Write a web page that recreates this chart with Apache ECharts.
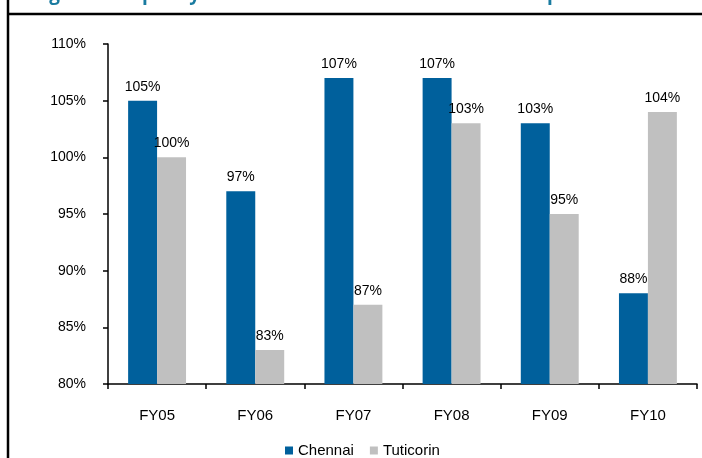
<!DOCTYPE html>
<html>
<head>
<meta charset="utf-8">
<script src="https://cdn.jsdelivr.net/npm/echarts@6/dist/echarts.min.js"></script>
<style>
  html, body { margin: 0; padding: 0; background: #fff; }
  #chart { width: 702px; height: 458px; }
</style>
</head>
<body>
<div id="chart"></div>
<script>
// Port capacity utilisation by fiscal year
const categories = ['FY05', 'FY06', 'FY07', 'FY08', 'FY09', 'FY10'];
const chennai = [105, 97, 107, 107, 103, 88];
const tuticorin = [100, 83, 87, 103, 95, 104];
const yTicks = { min: 80, max: 110, interval: 5 };

const FONT = '"Liberation Sans", Arial, sans-serif';

const chart = echarts.init(document.getElementById('chart'));

const labelStyle = {
  show: true,
  position: 'top',
  distance: 7,
  color: '#000',
  fontFamily: FONT,
  fontSize: 14,
  formatter: p => p.value + '%'
};

chart.setOption({
  animation: false,
  backgroundColor: '#fff',
  textStyle: { fontFamily: FONT },
  graphic: [
    {
      type: 'text',
      left: 33,
      top: -15,
      style: {
        text: 'Figure 3: Capacity utilisation at Chennai and Tuticorin ports',
        fill: '#1a7ba0',
        font: 'bold 19px "Open Sans", Arial, sans-serif'
      },
      z: 10
    },
    {
      type: 'line',
      shape: { x1: 8, y1: 14, x2: 702, y2: 14 },
      style: { stroke: '#000', lineWidth: 2.5 },
      z: 11
    },
    {
      type: 'line',
      shape: { x1: 8, y1: 0, x2: 8, y2: 458 },
      style: { stroke: '#000', lineWidth: 2.5 },
      z: 11
    }
  ],
  grid: { left: 108, right: 5, top: 44, bottom: 74, containLabel: false },
  legend: {
    left: 285,
    top: 443,
    padding: 0,
    itemWidth: 8,
    itemHeight: 8,
    itemGap: 16,
    icon: 'rect',
    textStyle: { fontFamily: FONT, fontSize: 15, color: '#000' },
    data: ['Chennai', 'Tuticorin']
  },
  xAxis: {
    type: 'category',
    data: categories,
    axisLine: { lineStyle: { color: '#000', width: 1.5 } },
    axisTick: { show: true, length: 5, lineStyle: { color: '#000', width: 1.5 } },
    axisLabel: { color: '#000', fontFamily: FONT, fontSize: 15, margin: 24 },
    splitLine: { show: false }
  },
  yAxis: {
    type: 'value',
    min: yTicks.min,
    max: yTicks.max,
    interval: yTicks.interval,
    axisLine: { show: true, lineStyle: { color: '#000', width: 1.5 } },
    axisTick: { show: true, length: 5, lineStyle: { color: '#000', width: 1.5 } },
    axisLabel: { color: '#000', fontFamily: FONT, fontSize: 14, margin: 22, formatter: '{value}%' },
    splitLine: { show: false }
  },
  series: [
    {
      name: 'Chennai',
      type: 'bar',
      data: chennai,
      barWidth: '29.5%',
      barGap: '0%',
      itemStyle: { color: '#00609c' },
      label: labelStyle
    },
    {
      name: 'Tuticorin',
      type: 'bar',
      data: tuticorin,
      barWidth: '29.5%',
      barGap: '0%',
      itemStyle: { color: '#c0c0c0' },
      label: labelStyle
    }
  ]
});
</script>
</body>
</html>
